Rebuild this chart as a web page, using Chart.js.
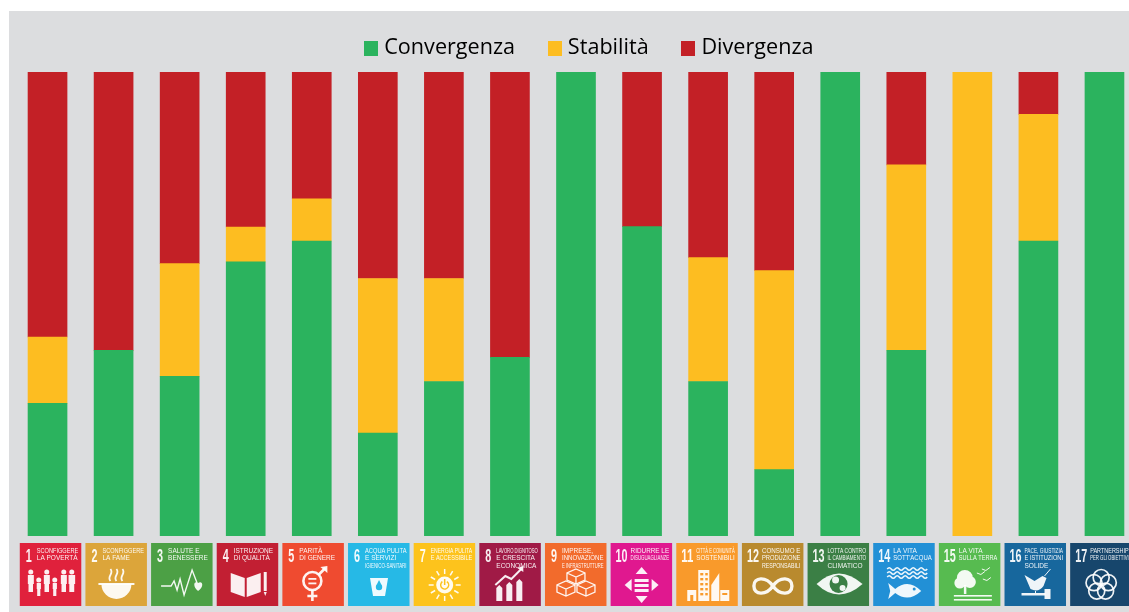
<!DOCTYPE html>
<html lang="it"><head><meta charset="utf-8">
<script src="https://cdn.jsdelivr.net/npm/chart.js@4"></script>
<style>
html,body{margin:0;padding:0;background:#fff;overflow:hidden}
#panel{position:absolute;left:9px;top:11px;width:1120px;height:601px;background:#dcdddf}
#wrap{position:absolute;left:0;top:0;width:1129px;height:612px;overflow:hidden}
</style></head><body>
<div id="panel"></div>
<div id="wrap"><canvas id="c" width="1140" height="612"></canvas></div>
<script>
const goals=['1','2','3','4','5','6','7','8','9','10','11','12','13','14','15','16','17'];
const convergenza=[28.6,40,34.4,59.1,63.6,22.2,33.3,38.5,100,66.7,33.3,14.3,100,40,null,63.6,100];
const stabilita=[14.3,null,24.3,7.5,9.1,33.3,22.2,null,null,null,26.7,42.9,null,40,100,27.3,null];
const divergenza=[57.1,60,41.3,33.4,27.3,44.5,44.5,61.5,null,33.3,40,42.8,null,20,null,9.1,null];
const goalLabels=[['SCONFIGGERE','LA POVERTÀ'],['SCONFIGGERE','LA FAME'],['SALUTE E','BENESSERE'],['ISTRUZIONE','DI QUALITÀ'],['PARITÀ','DI GENERE'],['ACQUA PULITA','E SERVIZI','IGIENICO-SANITARI'],['ENERGIA PULITA','E ACCESSIBILE'],['LAVORO DIGNITOSO','E CRESCITA','ECONOMICA'],['IMPRESE,','INNOVAZIONE','E INFRASTRUTTURE'],['RIDURRE LE','DISUGUAGLIANZE'],['CITTÀ E COMUNITÀ','SOSTENIBILI'],['CONSUMO E','PRODUZIONE','RESPONSABILI'],['LOTTA CONTRO','IL CAMBIAMENTO','CLIMATICO'],['LA VITA','SOTT\'ACQUA'],['LA VITA','SULLA TERRA'],['PACE, GIUSTIZIA','E ISTITUZIONI','SOLIDE'],['PARTNERSHIP','PER GLI OBIETTIVI']];
const goalColors=['#e0213c','#dca53a','#4ca045','#c21f33','#ef4b30','#26b9e6','#fdc31c','#a01a46','#f26b2c','#e0188f','#f99a2b','#b98a2e','#3b7f45','#2290d6','#57bb50','#17679d','#17466c'];
const GREEN='#2bb35e',YELLOW='#fdbd21',RED='#c32026';

const W='rgba(255,255,255,.93)';
const icons=[
 c=>{[[9,5],[17,3.5],[25,5],[33,3.5],[42,5],[50,5.5]].forEach(([x,r],i)=>{const big=r>4;const top=big?29:37;c.beginPath();c.arc(x+2,top,2.5,0,7);c.fill();c.fillRect(x+2-r/1.7,top+3,r*1.2,big?9:6);c.fillRect(x+2-r/2.2,top+12-(big?0:3),r*.9,big?8:7);});},
 c=>{c.beginPath();c.ellipse(31,41,15,15,0,0,Math.PI);c.closePath();c.fill();c.fillRect(13,40,36,2);[25,31,37].forEach(x=>{c.beginPath();c.moveTo(x,38);c.bezierCurveTo(x-4,33,x+4,31,x,26);c.lineWidth=1.8;c.stroke();});},
 c=>{c.lineWidth=1.4;c.beginPath();[[10,43],[20,43],[23,38],[26,47],[29,36],[33,52],[41,27],[46,40]].forEach(([x,y],i)=>i?c.lineTo(x,y):c.moveTo(x,y));c.stroke();c.beginPath();c.moveTo(47,48);c.bezierCurveTo(41,43,43,37,47,40);c.bezierCurveTo(51,37,54,43,47,48);c.fill();},
 c=>{c.beginPath();c.moveTo(14,30);c.lineTo(28,35);c.lineTo(28,54);c.lineTo(14,49);c.closePath();c.moveTo(30,35);c.lineTo(44,30);c.lineTo(44,49);c.lineTo(30,54);c.closePath();c.fill();c.fillRect(47,29,3,19);c.beginPath();c.moveTo(47,49);c.lineTo(50,49);c.lineTo(48.5,53);c.fill();},
 c=>{c.lineWidth=2.6;c.beginPath();c.arc(30,38,9,0,7);c.stroke();c.beginPath();c.moveTo(30,47);c.lineTo(30,58);c.moveTo(25,53);c.lineTo(35,53);c.moveTo(36,32);c.lineTo(43,25);c.stroke();c.beginPath();c.moveTo(38,24);c.lineTo(45,23);c.lineTo(45,30);c.fill();c.fillRect(26,35,8,1.8);c.fillRect(26,39.5,8,1.8);},
 c=>{c.beginPath();c.moveTo(22,35);c.lineTo(40,35);c.lineTo(37,53);c.lineTo(25,53);c.closePath();c.fill();c.fillStyle='#26b9e6';c.beginPath();c.arc(31,44,3.2,0,7);c.moveTo(31,37);c.lineTo(34,43);c.lineTo(28,43);c.fill();},
 c=>{c.beginPath();c.arc(31,42,8.5,0,7);c.fill();c.lineWidth=1.5;for(let i=0;i<12;i++){const a=i*Math.PI/6;c.beginPath();c.moveTo(31+Math.cos(a)*11,42+Math.sin(a)*11);c.lineTo(31+Math.cos(a)*16,42+Math.sin(a)*16);c.stroke();}c.strokeStyle='#fdc31c';c.beginPath();c.arc(31,42,4,-1,4.1);c.moveTo(31,36);c.lineTo(31,42);c.stroke();},
 c=>{[[20,42,6],[30,39,6],[40,36,6]].forEach(([x,y,w],i)=>{c.beginPath();c.moveTo(x-w/2,58);c.lineTo(x-w/2,y+3);c.lineTo(x,y);c.lineTo(x+w/2,y+3);c.lineTo(x+w/2,58);c.fill();});c.lineWidth=2;c.beginPath();c.moveTo(16,42);c.lineTo(26,33);c.lineTo(32,36);c.lineTo(42,26);c.stroke();c.beginPath();c.moveTo(38,25);c.lineTo(44,23);c.lineTo(44,29);c.fill();},
 c=>{c.lineWidth=1.3;[[31,33],[21,45],[41,45]].forEach(([x,y])=>{c.beginPath();c.moveTo(x,y-7);c.lineTo(x+9,y-3);c.lineTo(x+9,y+4);c.lineTo(x,y+8);c.lineTo(x-9,y+4);c.lineTo(x-9,y-3);c.closePath();c.moveTo(x-9,y-3);c.lineTo(x,y+1);c.lineTo(x+9,y-3);c.moveTo(x,y+1);c.lineTo(x,y+8);c.stroke();});},
 c=>{[[31,24,6,7,0],[31,60,6,-7,0]].forEach(([x,y,w,h])=>{c.beginPath();c.moveTo(x,y);c.lineTo(x+w,y+h);c.lineTo(x-w,y+h);c.fill();});[[14,42,7,6],[48,42,-7,6]].forEach(([x,y,w,h])=>{c.beginPath();c.moveTo(x,y);c.lineTo(x+w,y-h);c.lineTo(x+w,y+h);c.fill();});c.fillRect(24,36,14,3);c.fillRect(24,41,14,3);c.fillRect(24,46,14,3);},
 c=>{c.fillRect(22,27,11,31);c.fillRect(11,47,9,11);c.beginPath();c.moveTo(35,58);c.lineTo(35,42);c.lineTo(43,30);c.lineTo(43,58);c.fill();c.fillRect(44,47,9,11);c.fillStyle='#f99a2b';for(let y=30;y<54;y+=5){c.fillRect(24,y,3,2.4);c.fillRect(29,y,2.5,2.4);}c.fillRect(14,52,3,6);c.fillRect(46,50,5,2);},
 c=>{c.lineWidth=3.4;c.beginPath();c.moveTo(31,43);c.bezierCurveTo(24,33,12,34,12,43);c.bezierCurveTo(12,52,24,53,31,43);c.bezierCurveTo(38,33,50,34,50,43);c.bezierCurveTo(50,52,38,53,31,43);c.stroke();},
 c=>{c.beginPath();c.moveTo(9,41);c.quadraticCurveTo(31,20,55,41);c.quadraticCurveTo(31,62,9,41);c.fill();c.fillStyle='#3b7f45';c.beginPath();c.arc(31,41,9,0,7);c.fill();c.fillStyle=W;c.beginPath();c.arc(28,37,3.5,0,7);c.arc(35,45,3,0,7);c.fill();},
 c=>{c.lineWidth=1.5;[26,30,34].forEach(y=>{c.beginPath();c.moveTo(14,y);for(let x=14;x<48;x+=8){c.quadraticCurveTo(x+2,y-2.5,x+4,y);c.quadraticCurveTo(x+6,y+2.5,x+8,y);}c.stroke();});c.beginPath();c.moveTo(48,48);c.quadraticCurveTo(35,35,22,46);c.lineTo(15,40);c.lineTo(17,48);c.lineTo(15,56);c.lineTo(22,50);c.quadraticCurveTo(35,60,48,48);c.fill();c.fillStyle='#2290d6';c.beginPath();c.arc(41,46,1.5,0,7);c.fill();},
 c=>{c.beginPath();c.arc(26,35,8,0,7);c.arc(31,39,6,0,7);c.arc(21,40,5.5,0,7);c.fill();c.fillRect(25,42,2.5,9);c.fillRect(15,52,38,1.6);c.fillRect(15,56,38,1.6);c.lineWidth=1;[[38,30],[43,26],[44,36]].forEach(([x,y])=>{c.beginPath();c.moveTo(x,y);c.lineTo(x+4,y+1.5);c.lineTo(x+8,y-1.5);c.stroke();});},
 c=>{c.beginPath();c.moveTo(20,32);c.lineTo(30,38);c.lineTo(38,33);c.lineTo(42,35);c.lineTo(39,43);c.quadraticCurveTo(34,50,26,46);c.closePath();c.fill();c.fillRect(17,50,24,2.5);c.fillRect(40,46,6,10);c.lineWidth=1;c.beginPath();c.moveTo(40,33);c.lineTo(46,26);c.stroke();c.beginPath();c.moveTo(31,48);c.lineTo(31,50);c.stroke();},
 c=>{c.lineWidth=1.7;for(let i=0;i<5;i++){const a=-Math.PI/2+i*2*Math.PI/5;c.beginPath();c.arc(31+Math.cos(a)*7.5,42+Math.sin(a)*7.5,8,0,7);c.stroke();}}
];
const tilesPlugin={id:'sdgTiles',afterDraw(chart){
 const c=chart.ctx,x=chart.scales.x,top=chart.chartArea.bottom+7,w=61.5,h=63;
 goals.forEach((g,i)=>{
  const cx=x.getPixelForValue(i)+3-i*0.41,l=cx-w/2;
  c.save();c.fillStyle=goalColors[i];c.fillRect(l,top,w,h);
  c.translate(l,top);
  c.fillStyle=W;c.textBaseline='alphabetic';c.textAlign='left';
  const two=g.length>1;
  c.font='bold 18px "Liberation Sans Narrow","Liberation Sans"';
  c.fillText(g,two?5:6,19,two?12:6);
  c.font='6.5px "Liberation Sans Narrow","Liberation Sans"';
  const tx=two?20:17,ls=goalLabels[i];
  ls.forEach((t,k)=>c.fillText(t,tx,10+k*7.3,w-tx-3));
  c.strokeStyle=W;c.fillStyle=W;
  icons[i](c);
  c.restore();
 });
}};
const LEGEND_DX=15,LEGEND_DY=-3;
const legendMove={id:'legendMove',afterLayout(chart){const l=chart.legend;l.left+=LEGEND_DX;l.right+=LEGEND_DX;l.top+=LEGEND_DY;l.bottom+=LEGEND_DY;}};
function swatch(col){const s=document.createElement('canvas');s.width=14;s.height=15;const g=s.getContext('2d');g.fillStyle=col;g.fillRect(0,0,14,15);return s;}
new Chart(document.getElementById('c'),{
 type:'bar',
 data:{labels:goals,datasets:[
  {label:'Convergenza',data:convergenza,backgroundColor:GREEN,pointStyle:swatch(GREEN)},
  {label:'Stabilità',data:stabilita,backgroundColor:YELLOW,pointStyle:swatch(YELLOW)},
  {label:'Divergenza',data:divergenza,backgroundColor:RED,pointStyle:swatch(RED)}]},
 plugins:[tilesPlugin,legendMove],
 options:{responsive:false,animation:false,
  layout:{padding:{left:14.5,right:2.5,top:3.5,bottom:76}},
  datasets:{bar:{barThickness:39,borderWidth:0}},
  plugins:{tooltip:{enabled:false},legend:{display:true,position:'top',
   labels:{usePointStyle:true,pointStyleWidth:5,padding:37,color:'#000',font:{family:'"Open Sans"',size:21.6}}}},
  scales:{x:{stacked:true,display:false},y:{stacked:true,display:false,min:0,max:100}}
 }});
</script></body></html>
